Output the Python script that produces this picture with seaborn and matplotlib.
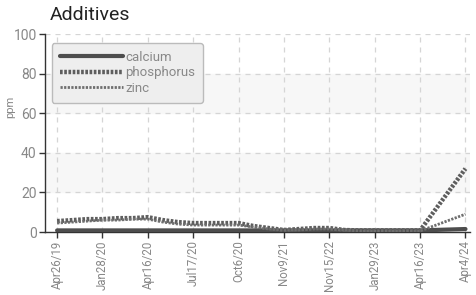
import matplotlib
matplotlib.use("Agg")
import matplotlib.pyplot as plt
import seaborn as sns
import pandas as pd
from matplotlib.lines import Line2D

tick_labels = ["Apr26/19", "Jan28/20", "Apr16/20", "Jul17/20", "Oct6/20",
               "Nov9/21", "Nov15/22", "Jan29/23", "Apr16/23", "Apr4/24"]
sample_idx = list(range(25)) + [27]
calcium = [0.8] * 25 + [1.5]
phosphorus = [5.5, 6, 6.5, 6.5, 7, 7, 7.5, 6, 5, 4.5, 4.5, 4.5, 4.5, 3, 2,
              1, 1.5, 2, 2, 1, 0.8, 0.8, 0.8, 0.8, 0.8, 32]
zinc = [4.5, 5, 5.5, 6, 6, 6.5, 6.5, 5, 4, 3.5, 3.5, 3.5, 3.5, 2.5, 1.5,
        1, 1, 1.5, 1.5, 1, 0.5, 0.5, 0.5, 0.5, 0.5, 9]
series_names = ["calcium", "phosphorus", "zinc"]

rows = []
for name, vals in zip(series_names, [calcium, phosphorus, zinc]):
    for i, v in zip(sample_idx, vals):
        rows.append({"x": i, "ppm": v, "series": name})
df = pd.DataFrame(rows)

sns.set_theme(style="white")
plt.rcParams['font.family'] = ['Roboto', 'DejaVu Sans']

fig = plt.figure(figsize=(4.76, 2.95), dpi=100)
ax = fig.add_axes([45/476, 1 - 232/295, 425/476, 198/295])

for lo, hi in [(20, 40), (60, 80)]:
    ax.axhspan(lo, hi, color="#f7f7f7", zorder=0)

palette = {"calcium": "#4d4d4d", "phosphorus": "#5e5e5e", "zinc": "#6e6e6e"}
styles = {"calcium": (3.0, "-"),
          "phosphorus": (3.2, (0, (0.6, 0.35))),
          "zinc": (2.0, (0, (0.8, 0.5)))}
sns.lineplot(data=df, x="x", y="ppm", hue="series", palette=palette, ax=ax,
             legend=False, zorder=3)
lines = ax.get_lines()
for l, name in zip(lines, series_names):
    lw, ls = styles[name]
    l.set_linewidth(lw)
    l.set_linestyle(ls)

ax.set_xlim(-0.8, 27.3)
ax.set_ylim(0, 100)
ax.set_yticks([0, 20, 40, 60, 80, 100])
ax.set_xticks(list(range(0, 28, 3)))
ax.set_xticklabels(tick_labels, rotation=90)
ax.grid(True, linestyle=(0, (4, 4)), color="#d5d5d5", linewidth=0.9)
for s in ["top", "right"]:
    ax.spines[s].set_visible(False)
for s in ["left", "bottom"]:
    ax.spines[s].set_color("#333333")
    ax.spines[s].set_linewidth(1.0)
ax.tick_params(axis="y", labelcolor="#888888", labelsize=10, length=4,
               width=1, direction="out", left=True, color="#333333", pad=2)
ax.tick_params(axis="x", labelcolor="#888888", labelsize=8.3, length=4,
               width=1, direction="out", bottom=True, color="#333333", pad=2)
ax.set_xlabel("")
ax.set_ylabel("ppm", color="#888888", fontsize=8)
ax.yaxis.set_label_coords(-30/425, 0.63)

handles = [Line2D([], [], color=palette[n], lw=styles[n][0],
                  linestyle=styles[n][1]) for n in series_names]
leg = ax.legend(handles, series_names, loc="upper left",
                bbox_to_anchor=(0.016, 0.955), fancybox=True, frameon=True,
                handlelength=4.8, handletextpad=0.15, labelspacing=0.2,
                fontsize=9.5, borderpad=0.6, borderaxespad=0)
leg.get_frame().set_facecolor("#eeeeee")
leg.get_frame().set_edgecolor("#bbbbbb")
leg.get_frame().set_alpha(1)
for t in leg.get_texts():
    t.set_color("#888888")

fig.text(50/476, 1 - 15/295, "Additives", fontsize=14, color="#222222",
         va="center", ha="left")

fig.savefig("out.png", dpi=100)
